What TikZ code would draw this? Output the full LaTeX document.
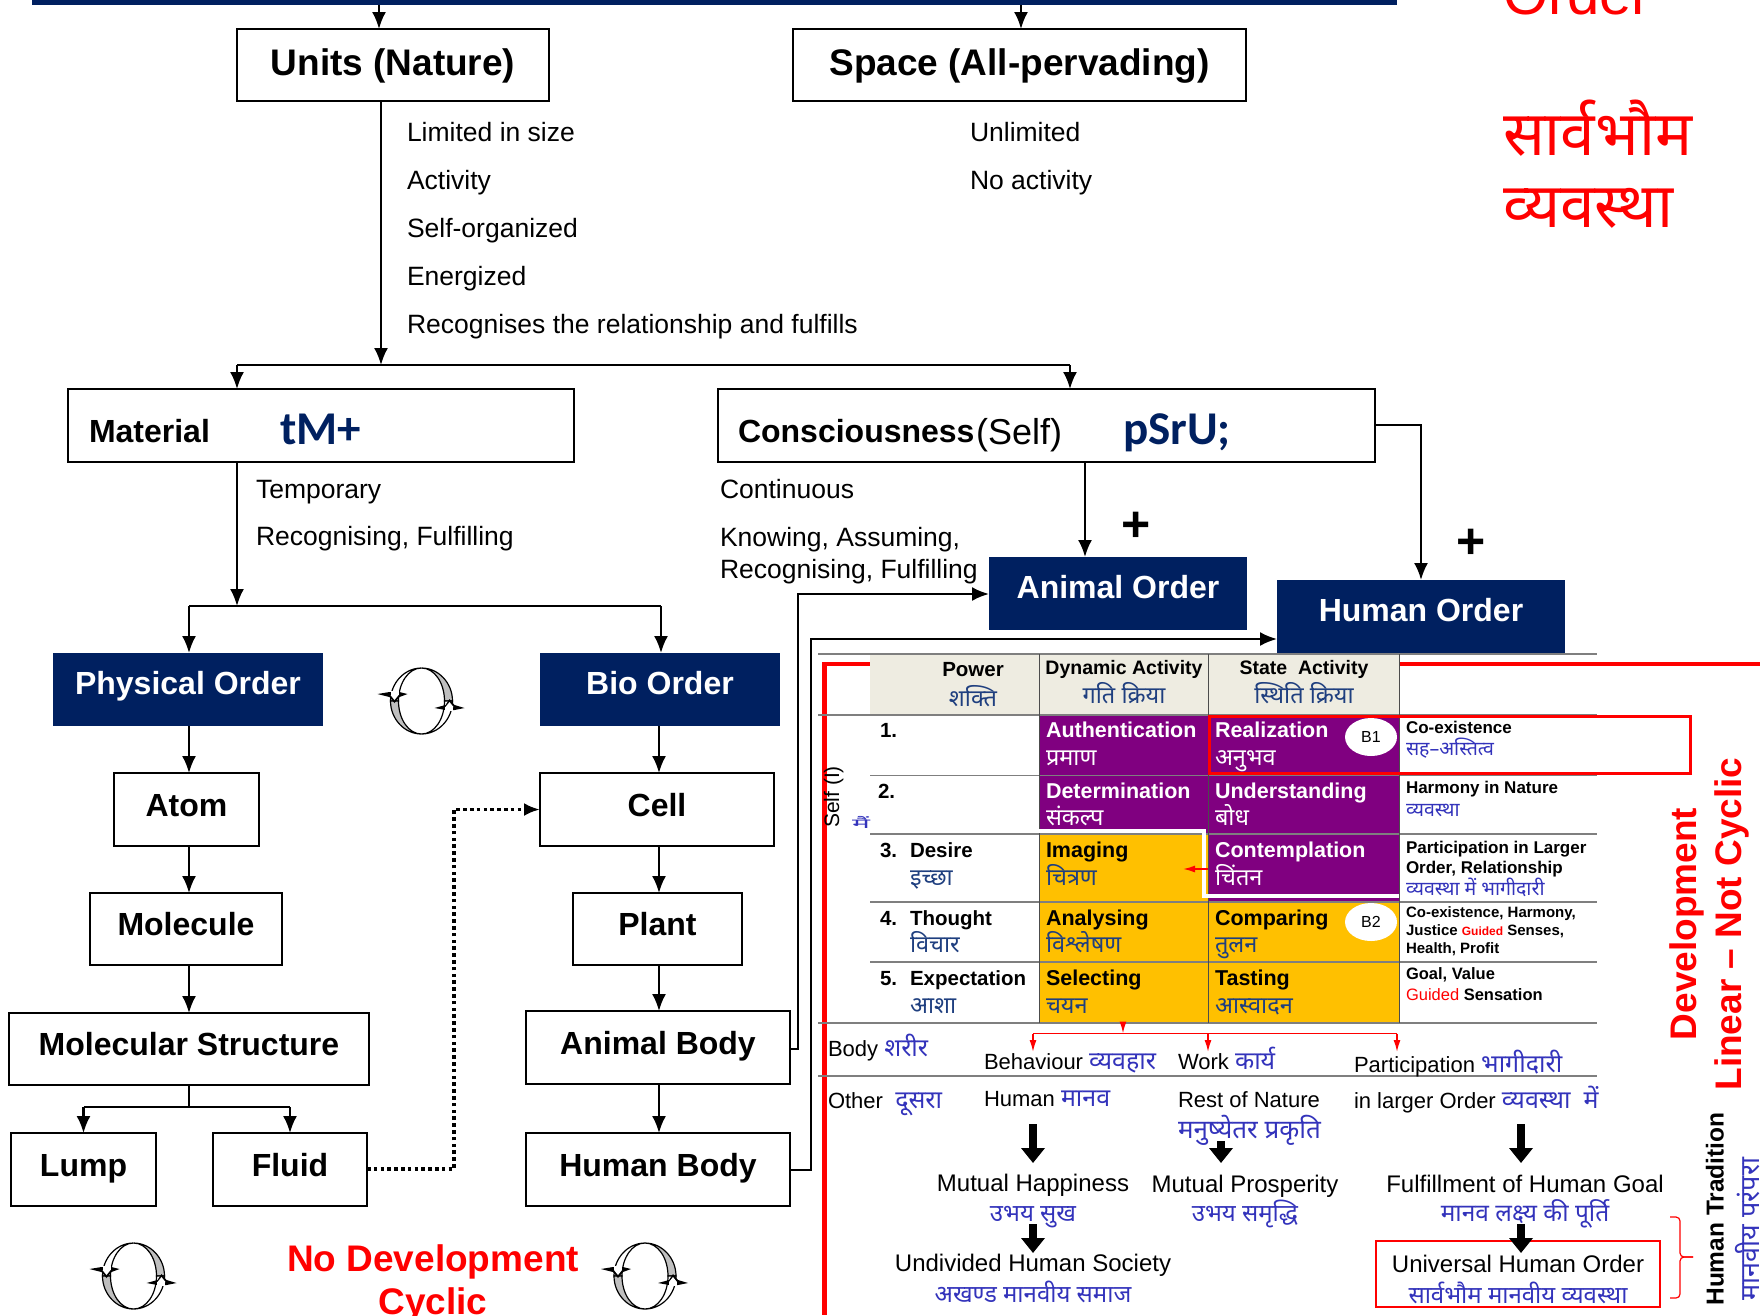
\documentclass[tikz,border=0pt]{standalone}
\usepackage{fontspec}
\setmainfont{Liberation Sans}
\newfontfamily\hindi[Script=Devanagari]{Noto Sans}
\newfontfamily\calib{Carlito}
\usetikzlibrary{calc,arrows.meta,shapes.geometric}

\newcommand{\tfs}[1]{\fontsize{#1}{#1}\selectfont}
\newcommand{\hd}[1]{\textcolor{indigo_blue}{\hindi\tfs{25}#1}}

\definecolor{navy_box}{HTML}{002060}
\definecolor{cell_purple}{HTML}{800080}
\definecolor{cell_amber}{HTML}{FFC000}
\definecolor{head_beige}{HTML}{EEECE1}
\definecolor{row_gray}{HTML}{7F7F7F}
\definecolor{dark_blue}{HTML}{1F3F7F}
\definecolor{indigo_blue}{HTML}{3333BB}

\tikzset{
	unit_box/.style={draw=black, line width=1.8pt, anchor=north west, inner sep=0pt, outer sep=0pt,
		font=\bfseries\tfs{#1}, text height={0.94*#1pt}, text depth={0.53*#1pt}},
	order_box/.style={fill=navy_box, text=white, anchor=north west, inner sep=0pt, outer sep=0pt,
		font=\bfseries\tfs{#1}, text height={0.94*#1pt}, text depth={0.6*#1pt}},
	cell_box/.style={fill=#1, anchor=north west, inner sep=0pt, outer sep=0pt},
	label_txt/.style={anchor=west, inner sep=0pt, outer sep=0pt, font=\tfs{#1},
		text height={0.78*#1pt}, text depth={0pt}},
	bold_txt/.style={label_txt=#1, font=\bfseries\tfs{#1}},
	hindi_txt/.style={label_txt=#1, font=\hindi\tfs{#1}, text=indigo_blue},
	conn/.style={draw=black, line width=2.2pt},
	conn_arrow/.style={conn, -{Latex[length=17pt,width=14pt]}},
	red_arrow/.style={draw=red, line width=1.6pt, -{Latex[length=12pt,width=7pt]}},
	fat_arrow/.style={draw=black, line width=8pt, -{Triangle[length=15pt,width=23pt]}},
	row_line/.style={draw=row_gray, line width=1.4pt},
	cycle_mark/.pic={
		\draw[fill=white, line width=1.2pt] (0,-33) .. controls (-17,-33) and (-31,-18) .. (-31,0)
			-- (-23,0) .. controls (-23,-18) and (-13,-33) .. (0,-33);
		\draw[fill=black!25, line width=1.2pt] (-31,0) .. controls (-31,18) and (-17,33) .. (0,33)
			.. controls (-13,33) and (-23,18) .. (-23,0) -- cycle;
		\draw[fill=black!25, line width=1.2pt] (0,-33) .. controls (17,-33) and (31,-18) .. (31,0)
			-- (23,0) .. controls (23,-18) and (13,-33) .. (0,-33);
		\draw[fill=white, line width=1.2pt] (31,0) .. controls (31,18) and (17,33) .. (0,33)
			.. controls (13,33) and (23,18) .. (23,0) -- cycle;
		\fill[black] (-44,-7) -- (-32,-4) -- (-27,2) -- (-22,-4) -- (-14,-7) -- (-22,-9) -- (-32,-9) -- cycle;
		\fill[white] (-31,-10) rectangle (-23,-6);
		\fill[white] (-31,-6) -- (-27,-1) -- (-23,-6) -- cycle;
		\fill[black] (13,7) -- (24,4) -- (28,-2) -- (33,4) -- (43,7) -- (33,9) -- (24,9) -- cycle;
		\fill[white] (23.5,6) rectangle (31.5,10);
		\fill[white] (24,6) -- (28,1) -- (32,6) -- cycle;
	},
}

\begin{document}
\begin{tikzpicture}[x=1pt,y=-1pt,inner sep=0pt,outer sep=0pt]
	\useasboundingbox (0,0) rectangle (1760,1315);

	% top row
	\node[cell_box=navy_box, minimum width=1365pt, minimum height=5pt] (top_bar) at (32,0) {};
	\coordinate (units_in) at (379,5);
	\coordinate (space_in) at (1021,5);
	\node[unit_box=37, text depth=13pt, minimum width=312pt, minimum height=72pt] (units) at (237,29) {Units (Nature)};
	\node[unit_box=37, text depth=13pt, minimum width=453pt, minimum height=72pt] (space) at (793,29) {Space (All-pervading)};
	\draw[conn_arrow] (units_in) -- (units_in |- units.north);
	\draw[conn_arrow] (space_in) -- (space_in |- space.north);

	% units and space texts
	\node[label_txt=26.5] (unit_a) at (407,131) {Limited in size};
	\node[label_txt=26.5] (unit_b) at (407,179) {Activity};
	\node[label_txt=26.5] (unit_c) at (407,227) {Self-organized};
	\node[label_txt=26.5] (unit_d) at (407,275) {Energized};
	\node[label_txt=26.5] (unit_e) at (407,323) {Recognises the relationship and fulfills};
	\node[label_txt=26.5] (space_a) at (970,131) {Unlimited};
	\node[label_txt=26.5] (space_b) at (970,179) {No activity};

	% material and consciousness
	\node[unit_box=32, minimum width=506pt, minimum height=73pt] (material) at (68,389) {};
	\node[bold_txt=32] (material_txt) at (89,430) {Material};
	\node[label_txt=47, font=\calib\bfseries\tfs{47}, text=navy_box] (material_hi) at (280,426) {tM+};
	\node[unit_box=32, minimum width=657pt, minimum height=73pt] (conscious) at (718,389) {};
	\node[bold_txt=32] (conscious_txt) at (738,430) {Consciousness};
	\node[label_txt=36, anchor=west] (self_txt) at (976,430) {(Self)};
	\node[label_txt=47, font=\calib\bfseries\tfs{47}, text=navy_box] (conscious_hi) at (1123,426) {pSrU;};
	\coordinate (split_top) at (381,365);
	\coordinate (material_in) at (237,365);
	\coordinate (conscious_in) at (1070,365);
	\draw[conn_arrow] (split_top |- units.south) -- (split_top);
	\draw[conn_arrow] (material_in) -- (material_in |- material.north);
	\draw[conn_arrow] (conscious_in) -- (conscious_in |- conscious.north);
	\draw[conn] (material_in) -- (conscious_in);
	\node[label_txt=26.5] (mat_a) at (256,488) {Temporary};
	\node[label_txt=26.5] (mat_b) at (256,535) {Recognising, Fulfilling};
	\node[label_txt=26.5] (con_a) at (720,488) {Continuous};
	\node[label_txt=26.5] (con_b) at (720,536) {Knowing, Assuming,};
	\node[label_txt=26.5] (con_c) at (720,568) {Recognising, Fulfilling};

	% animal and human order
	\node[order_box=32, minimum width=258pt, minimum height=73pt] (animal_order) at (989,557) {Animal Order};
	\node[order_box=32, minimum width=288pt, minimum height=73pt] (human_order) at (1277,580) {Human Order};
	\node[bold_txt=50, anchor=center] (plus_a) at (1136,522) {+};
	\node[bold_txt=50, anchor=center] (plus_b) at (1471,539) {+};
	\coordinate (animal_drop) at (1085,462);
	\coordinate (human_turn) at (1421,425);
	\draw[conn_arrow] (animal_drop) -- (animal_drop |- animal_order.north);
	\draw[conn_arrow] (human_turn -| conscious.east) -- (human_turn) -- (human_turn |- human_order.north);

	% left column
	\coordinate (phys_split) at (237,606);
	\coordinate (phys_in) at (189,606);
	\coordinate (bio_in) at (661,606);
	\node[order_box=32, minimum width=270pt, minimum height=73pt] (physical_order) at (53,653) {Physical Order};
	\node[order_box=32, minimum width=240pt, minimum height=73pt] (bio_order) at (540,653) {Bio Order};
	\draw[conn_arrow] (phys_split |- material.south) -- (phys_split);
	\draw[conn] (phys_in) -- (bio_in);
	\draw[conn_arrow] (phys_in) -- (phys_in |- physical_order.north);
	\draw[conn_arrow] (bio_in) -- (bio_in |- bio_order.north);

	\node[unit_box=32, minimum width=145pt, minimum height=73pt] (atom) at (114,773) {Atom};
	\node[unit_box=32, minimum width=192pt, minimum height=72pt] (molecule) at (90,893) {Molecule};
	\node[unit_box=32, minimum width=360pt, minimum height=72pt] (mol_struct) at (9,1013) {Molecular Structure};
	\node[unit_box=32, minimum width=145pt, minimum height=73pt] (lump) at (11,1133) {Lump};
	\node[unit_box=32, minimum width=154pt, minimum height=73pt] (fluid) at (213,1133) {Fluid};
	\coordinate (left_axis) at (189,1107);
	\draw[conn_arrow] (left_axis |- physical_order.south) -- (left_axis |- atom.north);
	\draw[conn_arrow] (left_axis |- atom.south) -- (left_axis |- molecule.north);
	\draw[conn_arrow] (left_axis |- molecule.south) -- (left_axis |- mol_struct.north);
	\draw[conn] (left_axis |- mol_struct.south) -- (left_axis);
	\draw[conn_arrow] (left_axis -| lump.north) -- (lump.north);
	\draw[conn_arrow] (left_axis -| fluid.north) -- (fluid.north);
	\draw[conn] (left_axis -| lump.north) -- (left_axis -| fluid.north);

	% bio column
	\node[unit_box=32, minimum width=234pt, minimum height=73pt] (cell) at (540,773) {Cell};
	\node[unit_box=32, minimum width=169pt, minimum height=72pt] (plant) at (573,893) {Plant};
	\node[unit_box=32, minimum width=264pt, minimum height=73pt] (animal_body) at (526,1011) {Animal Body};
	\node[unit_box=32, minimum width=264pt, minimum height=73pt] (human_body) at (526,1133) {Human Body};
	\coordinate (bio_axis) at (659,730);
	\draw[conn_arrow] (bio_axis |- bio_order.south) -- (bio_axis |- cell.north);
	\draw[conn_arrow] (bio_axis |- cell.south) -- (bio_axis |- plant.north);
	\draw[conn_arrow] (bio_axis |- plant.south) -- (bio_axis |- animal_body.north);
	\draw[conn_arrow] (bio_axis |- animal_body.south) -- (bio_axis |- human_body.north);

	% links between the columns
	\coordinate (fluid_out) at (367,1169);
	\coordinate (dot_turn) at (454,1169);
	\draw[line width=3.6pt, dash pattern=on 3.6pt off 3.2pt, -{Latex[length=16pt,width=13pt]}]
		(fluid_out) -- (dot_turn) -- (dot_turn |- cell.west) -- (cell.west);
	\coordinate (animal_turn) at (798,594);
	\coordinate (human_turn_b) at (811,639);
	\draw[conn_arrow] (animal_body.east |- 0,1049) -- (animal_turn |- 0,1049) -- (animal_turn) -- (animal_turn -| animal_order.west);
	\draw[conn_arrow] (human_body.east |- 0,1170) -- (human_turn_b |- 0,1170) -- (human_turn_b) -- (human_turn_b -| human_order.west);

	% cycle marks
	\pic (cycle_a) at (421.5,701) {cycle_mark};
	\pic (cycle_b) at (133.5,1276) {cycle_mark};
	\pic (cycle_c) at (645,1276) {cycle_mark};
	\node[bold_txt=37, anchor=center, text=red] (no_dev) at (433,1257) {No Development};
	\node[bold_txt=37, anchor=center, text=red] (cyclic_txt) at (433,1300) {Cyclic};

	% universal order title
	\node[label_txt=58, anchor=west, text=red] (order_title) at (1503,-8) {Order};
	\node[hindi_txt=62, text=red] (order_hi_a) at (1503,131) {सार्वभौम};
	\node[hindi_txt=62, text=red] (order_hi_b) at (1503,203) {व्यवस्था};

	% red frame and table
	\draw[draw=red, line width=4.5pt] (1760,664) -- (824.5,664) -- (824.5,1315);
	\node[cell_box=head_beige, minimum width=530pt, minimum height=61pt] (head_cell) at (870,654) {};
	\node[cell_box=cell_purple, minimum width=169pt, minimum height=60pt] (auth_cell) at (1039,715) {};
	\node[cell_box=cell_purple, minimum width=191pt, minimum height=60pt] (real_cell) at (1208,715) {};
	\node[cell_box=cell_purple, minimum width=169pt, minimum height=59pt] (det_cell) at (1039,775) {};
	\node[cell_box=cell_purple, minimum width=191pt, minimum height=60pt] (und_cell) at (1208,775) {};
	\node[cell_box=cell_purple, minimum width=191pt, minimum height=67pt] (cont_cell) at (1208,835) {};
	\node[cell_box=cell_amber, minimum width=169pt, minimum height=68pt] (img_cell) at (1039,834) {};
	\node[cell_box=cell_amber, minimum width=169pt, minimum height=60pt] (ana_cell) at (1039,902) {};
	\node[cell_box=cell_amber, minimum width=191pt, minimum height=60pt] (comp_cell) at (1208,902) {};
	\node[cell_box=cell_amber, minimum width=169pt, minimum height=61pt] (sel_cell) at (1039,962) {};
	\node[cell_box=cell_amber, minimum width=191pt, minimum height=61pt] (taste_cell) at (1208,962) {};

	\draw[row_line] (818,654) -- (1597,654);
	\draw[row_line] (818,715) -- (1597,715);
	\draw[row_line] (870,775.5) -- (1597,775.5);
	\draw[row_line] (870,834) -- (1597,834);
	\draw[row_line] (870,902) -- (1597,902);
	\draw[row_line] (870,962) -- (1597,962);
	\draw[row_line] (818,1023) -- (1597,1023);
	\draw[row_line] (818,1076) -- (1597,1076);
	\draw[line width=1.2pt, black!70] (1039.5,654) -- (1039.5,1023);
	\draw[line width=1.2pt, black!70] (1208.5,654) -- (1208.5,1023);
	\draw[line width=1.2pt, black!70] (1399.5,654) -- (1399.5,1023);
	\draw[draw=white, line width=4pt] (1039,831) -- (1204,831) -- (1204,896) -- (1399,896);
	\draw[draw=red, line width=3pt] (1209,716) rectangle (1690,773);
	\node[shape=ellipse, fill=white, minimum width=52pt, minimum height=38pt] (b1_mark) at (1371,737) {\tfs{16}B1};
	\node[shape=ellipse, fill=white, minimum width=52pt, minimum height=38pt] (b2_mark) at (1371,922) {\tfs{16}B2};
	\draw[red_arrow] (cont_cell.west |- 0,869) -- (1183,869);

	% table head
	\node[bold_txt=20.5, anchor=center] (head_a) at (973,668) {Power};
	\node[hindi_txt=23.5, anchor=center, text=dark_blue] (head_a_hi) at (973,697) {शक्ति};
	\node[bold_txt=19.5, anchor=center] (head_b) at (1124,667) {Dynamic Activity};
	\node[hindi_txt=23.5, anchor=center, text=dark_blue] (head_b_hi) at (1124,694) {गति क्रिया};
	\node[bold_txt=19.5, anchor=center] (head_c) at (1304,667) {State\ \ Activity};
	\node[hindi_txt=23.5, anchor=center, text=dark_blue] (head_c_hi) at (1304,694) {स्थिति क्रिया};

	% power column
	\node[bold_txt=20.5] (pow_a) at (880,729) {1.};
	\node[bold_txt=20.5] (pow_b) at (878,790) {2.};
	\node[bold_txt=20.5] (pow_c) at (880,849) {3.};
	\node[bold_txt=20.5] (pow_c_txt) at (910,849) {Desire};
	\node[hindi_txt=23.5, text=dark_blue] (pow_c_hi) at (910,876) {इच्छा};
	\node[bold_txt=20.5] (pow_d) at (880,917) {4.};
	\node[bold_txt=20.5] (pow_d_txt) at (910,917) {Thought};
	\node[hindi_txt=23.5, text=dark_blue] (pow_d_hi) at (910,943) {विचार};
	\node[bold_txt=20.5] (pow_e) at (880,977) {5.};
	\node[bold_txt=20.5] (pow_e_txt) at (910,977) {Expectation};
	\node[hindi_txt=23.5, text=dark_blue] (pow_e_hi) at (910,1004) {आशा};
	\node[label_txt=21, rotate=90, anchor=center] (self_lbl) at (831,797) {Self (I)};
	\node[anchor=center, text=indigo_blue, font=\hindi\tfs{30}] (self_hi) at (861,822) {\scalebox{1}[0.45]{मैं}};

	% dynamic column
	\node[bold_txt=21.5, text=white] (dyn_a) at (1046,729) {Authentication};
	\node[hindi_txt=23.5, text=white] (dyn_a_hi) at (1046,756) {प्रमाण};
	\node[bold_txt=21.5, text=white] (dyn_b) at (1046,790) {Determination};
	\node[hindi_txt=23.5, text=white] (dyn_b_hi) at (1046,816) {संकल्प};
	\node[bold_txt=21.5] (dyn_c) at (1046,849) {Imaging};
	\node[hindi_txt=23.5, text=dark_blue] (dyn_c_hi) at (1046,876) {चित्रण};
	\node[bold_txt=21.5] (dyn_d) at (1046,917) {Analysing};
	\node[hindi_txt=23.5, text=dark_blue] (dyn_d_hi) at (1046,943) {विश्लेषण};
	\node[bold_txt=21.5] (dyn_e) at (1046,977) {Selecting};
	\node[hindi_txt=23.5, text=dark_blue] (dyn_e_hi) at (1046,1004) {चयन};

	% state column
	\node[bold_txt=21.5, text=white] (sta_a) at (1215,729) {Realization};
	\node[hindi_txt=23.5, text=white] (sta_a_hi) at (1215,756) {अनुभव};
	\node[bold_txt=21.5, text=white] (sta_b) at (1215,790) {Understanding};
	\node[hindi_txt=23.5, text=white] (sta_b_hi) at (1215,816) {बोध};
	\node[bold_txt=21.5, text=white] (sta_c) at (1215,849) {Contemplation};
	\node[hindi_txt=23.5, text=white] (sta_c_hi) at (1215,876) {चिंतन};
	\node[bold_txt=21.5] (sta_d) at (1215,917) {Comparing};
	\node[hindi_txt=23.5, text=dark_blue] (sta_d_hi) at (1215,943) {तुलन};
	\node[bold_txt=21.5] (sta_e) at (1215,977) {Tasting};
	\node[hindi_txt=23.5, text=dark_blue] (sta_e_hi) at (1215,1004) {आस्वादन};

	% right column
	\node[bold_txt=17] (rig_a) at (1406,727) {Co-existence};
	\node[hindi_txt=19.5] (rig_a_hi) at (1406,748) {सह–अस्तित्व};
	\node[bold_txt=17] (rig_b) at (1406,787) {Harmony in Nature};
	\node[hindi_txt=19.5] (rig_b_hi) at (1406,809) {व्यवस्था};
	\node[bold_txt=17] (rig_c) at (1406,847) {Participation in Larger};
	\node[bold_txt=17] (rig_d) at (1406,867) {Order, Relationship};
	\node[hindi_txt=19.5] (rig_d_hi) at (1406,888) {व्यवस्था में भागीदारी};
	\node[bold_txt=15] (rig_e) at (1406,912) {Co-existence, Harmony,};
	\node[bold_txt=15] (rig_f) at (1406,930) {Justice \textcolor{red}{\tfs{12}Guided} Senses,};
	\node[bold_txt=15] (rig_g) at (1406,948) {Health, Profit};
	\node[bold_txt=16.5] (rig_h) at (1406,973) {Goal, Value};
	\node[bold_txt=16.5] (rig_i) at (1406,994) {\textcolor{red}{\mdseries Guided} Sensation};

	% red split below the table
	\coordinate (split_red) at (1123,1033.5);
	\coordinate (beh_in) at (1033,1033.5);
	\coordinate (work_in) at (1208,1033.5);
	\coordinate (part_in) at (1397,1033.5);
	\draw[red_arrow] (split_red |- sel_cell.south) -- (split_red);
	\draw[draw=red, line width=1.8pt] (beh_in) -- (part_in);
	\draw[red_arrow] (beh_in) -- (1033,1052);
	\draw[red_arrow] (work_in) -- (1208,1052);
	\draw[red_arrow] (part_in) -- (1397,1052);

	% body and other rows
	\node[label_txt=22] (body_lbl) at (828,1048) {Body \hd{शरीर}};
	\node[label_txt=22] (beh_lbl) at (984,1061) {Behaviour \hd{व्यवहार}};
	\node[label_txt=22] (work_lbl) at (1178,1061) {Work \hd{कार्य}};
	\node[label_txt=22] (part_lbl) at (1354,1064) {Participation \hd{भागीदारी}};
	\node[label_txt=22] (other_lbl) at (828,1100) {Other\ \ \hd{दूसरा}};
	\node[label_txt=22] (human_lbl) at (984,1098) {Human \hd{मानव}};
	\node[label_txt=22] (rest_lbl) at (1178,1099) {Rest of Nature};
	\node[hindi_txt=26] (rest_hi) at (1178,1128) {मनुष्येतर प्रकृति};
	\node[label_txt=22] (larger_lbl) at (1354,1100) {in larger Order \hd{व्यवस्था\ \ में}};

	% goals
	\node[label_txt=24, anchor=center] (happy_txt) at (1033,1182) {Mutual Happiness};
	\node[hindi_txt=24, anchor=center] (happy_hi) at (1033,1212) {उभय सुख};
	\node[label_txt=24, anchor=center] (prosp_txt) at (1245,1183) {Mutual Prosperity};
	\node[hindi_txt=24, anchor=center] (prosp_hi) at (1245,1212) {उभय समृद्धि};
	\node[label_txt=24, anchor=center] (goal_txt) at (1525,1183) {Fulfillment of Human Goal};
	\node[hindi_txt=24.5, anchor=center] (goal_hi) at (1525,1212) {मानव लक्ष्य की पूर्ति};
	\node[label_txt=24, anchor=center] (society_txt) at (1033,1262) {Undivided Human Society};
	\node[hindi_txt=24, anchor=center] (society_hi) at (1033,1293) {अखण्ड मानवीय समाज};
	\node[label_txt=24, anchor=center] (order_txt) at (1518,1263) {Universal Human Order};
	\node[hindi_txt=24, anchor=center] (order_hi) at (1518,1294) {सार्वभौम मानवीय व्यवस्था};
	\draw[draw=red, line width=2.4pt] (1376,1241) rectangle (1660,1307);

	\coordinate (fat_a) at (1033,1124);
	\coordinate (fat_b) at (1221,1141);
	\coordinate (fat_c) at (1521,1124);
	\coordinate (fat_d) at (1033,1224);
	\coordinate (fat_e) at (1521,1224);
	\draw[fat_arrow] (fat_a) -- (fat_a |- 0,1163);
	\draw[fat_arrow] (fat_b) -- (fat_b |- 0,1163);
	\draw[fat_arrow] (fat_c) -- (fat_c |- 0,1163);
	\draw[fat_arrow] (fat_d) -- (fat_d |- 0,1253);
	\draw[fat_arrow] (fat_e) -- (fat_e |- 0,1253);

	\coordinate (brace_top) at (1670,1217);
	\coordinate (brace_tip) at (1693,1257);
	\coordinate (brace_bot) at (1670,1298);
	\draw[draw=red, line width=1.2pt, rounded corners=4pt] (brace_top) -- (1680,1217) -- (1680,1257) -- (brace_tip);
	\draw[draw=red, line width=1.2pt, rounded corners=4pt] (brace_tip) -- (1680,1257) -- (1680,1298) -- (brace_bot);

	% side texts
	\node[bold_txt=37, rotate=90, anchor=center, text=red] (dev_txt) at (1682,924) {Development};
	\node[bold_txt=37, rotate=90, anchor=center, text=red] (linear_txt) at (1727,924) {Linear – Not Cyclic};
	\node[bold_txt=24.5, rotate=90, anchor=center] (trad_txt) at (1714,1209) {Human Tradition};
	\node[hindi_txt=27, rotate=90, anchor=center] (trad_hi) at (1749,1229) {मानवीय परंपरा};

\end{tikzpicture}
\end{document}
